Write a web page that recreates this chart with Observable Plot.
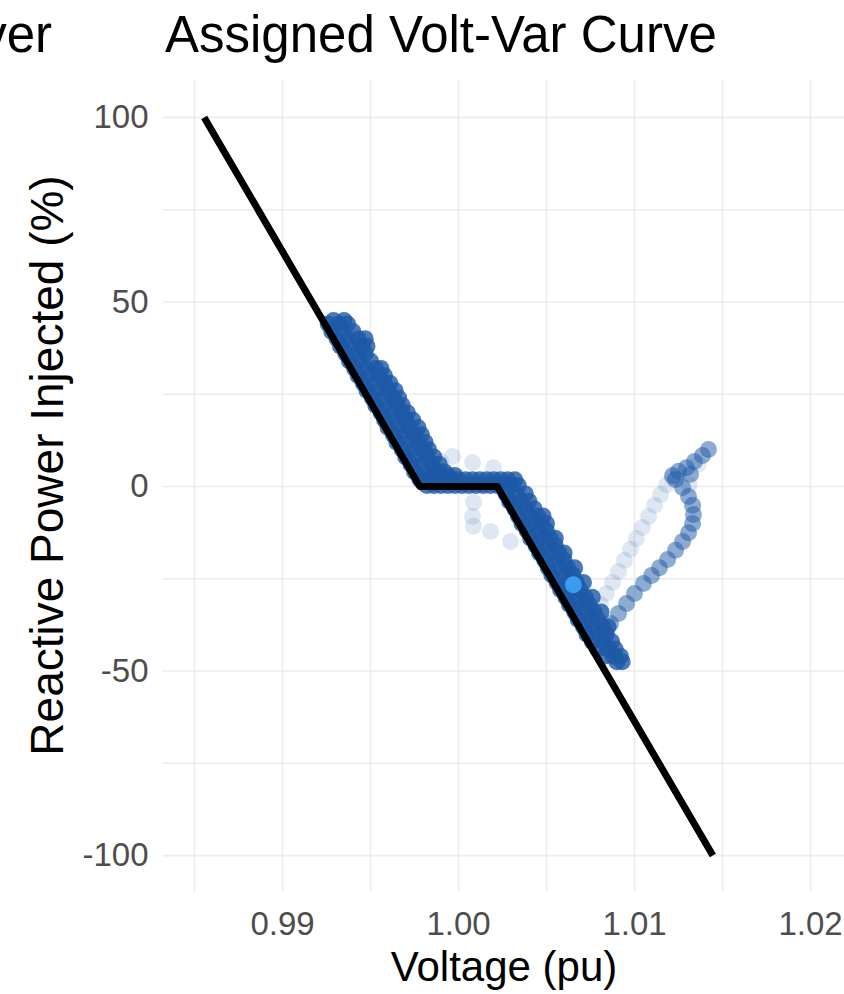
<!DOCTYPE html>
<html><head><meta charset="utf-8">
<script src="https://cdn.jsdelivr.net/npm/d3@7"></script>
<script src="https://cdn.jsdelivr.net/npm/@observablehq/plot@0.6"></script>
<style>
body{margin:0;background:#fff;width:844px;height:994px;overflow:hidden;font-family:"Liberation Sans",Arial,sans-serif;}
#head{position:relative;height:70px;}
#head span{position:absolute;top:9px;font-size:51px;line-height:1;color:#000;white-space:nowrap;}
</style></head><body>
<div id="head"><span style="right:792px">ver</span><span style="left:165px">Assigned Volt-Var Curve</span></div>
<div id="chart"></div>
<script>
// Assigned volt-var curve (voltage pu, reactive power %)
const curveV = [0.98555, 0.9978, 1.0022, 1.01445];
const curveQ = [100, 0, 0, -100];

// Dense measured band, upper slope: [Q, voltages...]
const upperSlope = [
  [45, 0.9929, 0.9935],
  [44, 0.9926, 0.9932, 0.9937],
  [42, 0.9928, 0.9934, 0.9940],
  [40, 0.9931, 0.9937, 0.9943, 0.9947],
  [38, 0.9933, 0.9939, 0.9945, 0.9948],
  [36, 0.9936, 0.9942, 0.9947],
  [34, 0.9938, 0.9944, 0.9950],
  [32, 0.9941, 0.9947, 0.9953, 0.9956],
  [30, 0.9943, 0.9949, 0.9955, 0.9958],
  [28, 0.9946, 0.9952, 0.9958, 0.9961],
  [26, 0.9948, 0.9954, 0.9960, 0.9964],
  [24, 0.9951, 0.9957, 0.9963, 0.9966],
  [22, 0.9953, 0.9959, 0.9965, 0.9968],
  [20, 0.9956, 0.9962, 0.9968, 0.9971],
  [18, 0.9958, 0.9964, 0.9970, 0.9974],
  [16, 0.9960, 0.9966, 0.9972, 0.9977],
  [14, 0.9963, 0.9969, 0.9975, 0.9979],
  [12, 0.9965, 0.9971, 0.9977, 0.9981],
  [10, 0.9968, 0.9974, 0.9980, 0.9983],
  [8, 0.9970, 0.9976, 0.9982, 0.9986],
  [6, 0.9973, 0.9979, 0.9985, 0.9989],
  [4, 0.9975, 0.9981, 0.9987, 0.9992],
  [2, 0.9978, 0.9984, 0.9990, 0.9995]
];
// Dense band, dead-band plateau
const plateau = [
  [3, 0.9986, 0.9990, 0.9994, 0.9998],
  [1.8, 0.9980, 0.9984, 0.9988, 0.9992, 0.9996, 1.0000, 1.0004, 1.0008, 1.0012, 1.0016, 1.0020, 1.0024, 1.0028, 1.0032],
  [0.3, 0.9982, 0.9986, 0.9990, 0.9994, 0.9998, 1.0002, 1.0006, 1.0010, 1.0014, 1.0018, 1.0022, 1.0026, 1.0030, 1.0034]
];
// Dense band, lower slope
const lowerSlope = [
  [-2, 1.0027, 1.0033, 1.0038],
  [-4, 1.0029, 1.0035, 1.0040],
  [-6, 1.0032, 1.0038, 1.0043],
  [-8, 1.0034, 1.0040, 1.0045, 1.0048],
  [-10, 1.0036, 1.0042, 1.0047, 1.0050],
  [-12, 1.0039, 1.0045, 1.0050],
  [-14, 1.0041, 1.0047, 1.0052, 1.0055],
  [-16, 1.0044, 1.0050, 1.0055],
  [-18, 1.0046, 1.0052, 1.0057, 1.0060],
  [-20, 1.0049, 1.0055, 1.0060],
  [-22, 1.0051, 1.0057, 1.0062, 1.0066],
  [-24, 1.0053, 1.0059, 1.0065],
  [-26, 1.0056, 1.0062, 1.0067, 1.0071],
  [-28, 1.0058, 1.0064, 1.0069],
  [-30, 1.0061, 1.0067, 1.0072, 1.0076],
  [-32, 1.0063, 1.0069, 1.0074],
  [-34, 1.0066, 1.0072, 1.0077, 1.0081],
  [-36, 1.0068, 1.0074, 1.0079],
  [-38, 1.0071, 1.0077, 1.0082, 1.0085],
  [-40, 1.0073, 1.0079, 1.0084],
  [-42, 1.0076, 1.0082, 1.0087],
  [-44, 1.0079, 1.0085, 1.0089],
  [-46, 1.0083, 1.0088, 1.0092],
  [-47.5, 1.0090, 1.0093]
];
// Return path (darker trail)
const returnV = [1.00864, 1.00909, 1.00955, 1.0100, 1.01051, 1.01097, 1.01142, 1.01188, 1.01233, 1.01273, 1.01307, 1.0133, 1.01335, 1.0133, 1.01307, 1.01273, 1.01233, 1.0125, 1.01295, 1.0134, 1.01386, 1.0142, 1.01318, 1.01216];
const returnQ = [-37.1, -34.4, -31.7, -29.0, -26.3, -24.1, -22.0, -19.8, -17.3, -14.9, -12.5, -10.0, -7.6, -5.1, -2.7, -0.3, 1.9, 4.1, 5.1, 6.8, 8.4, 10.0, 3.3, 3.0];
// Faint trails
const faintV = [1.00807, 1.00841, 1.00875, 1.00909, 1.00943, 1.00977, 1.01011, 1.01045, 1.0108, 1.01114, 1.01148, 1.01182, 1.01216, 1.0131, 1.0136,
                0.99898, 0.99966, 1.0008, 1.00199, 1.00085, 1.0008, 1.00085, 1.00182, 1.00295];
const faintQ = [-32, -29, -26, -23, -20, -17, -14.1, -11.1, -8.1, -5.1, -2.2, 0.5, 2.4, 0.5, 6.0,
                6.8, 8.1, 6.5, 5.1, -4.3, -8.1, -10.8, -12.2, -14.9];
// Highlighted current operating point
const currentV = [1.00653];
const currentQ = [-26.6];

const xTicks = [0.99, 1.00, 1.01, 1.02];
const xGrid = [0.985, 0.99, 0.995, 1.00, 1.005, 1.01, 1.015, 1.02];
const yTicks = [-100, -50, 0, 50, 100];
const yGrid = [-100, -75, -50, -25, 0, 25, 50, 75, 100];

const rows = (tbl) => tbl.flatMap(([q, ...vs]) => vs.map(v => ({v, q})));
const band = [...rows(upperSlope), ...rows(plateau), ...rows(lowerSlope)];
const pairs = (V, Q) => V.map((v, i) => ({v, q: Q[i]}));
const curve = pairs(curveV, curveQ);
const ret = pairs(returnV, returnQ);
const faint = pairs(faintV, faintQ);
const current = pairs(currentV, currentQ);

const blue = "#1d59a6";
const chart = Plot.plot({
  width: 844,
  height: 924,
  marginTop: 10,
  marginBottom: 102,
  marginLeft: 163,
  marginRight: 0,
  style: {fontFamily: "'Liberation Sans', Arial, sans-serif", background: "#fff"},
  x: {domain: [0.98324, 1.02193]},
  y: {domain: [-110, 110]},
  marks: [
    Plot.gridX(xGrid, {stroke: "#ebebeb", strokeOpacity: 1, strokeWidth: 1.6}),
    Plot.gridY(yGrid, {stroke: "#ebebeb", strokeOpacity: 1, strokeWidth: 1.6}),
    Plot.axisX(xTicks, {tickSize: 0, tickPadding: 19, tickFormat: d3.format(".2f"), fontSize: 33, color: "#4d4d4d", label: null}),
    Plot.axisY(yTicks, {tickSize: 0, tickPadding: 15, tickFormat: d => String(d), fontSize: 33, color: "#4d4d4d", label: null}),
    Plot.text(["Voltage (pu)"], {frameAnchor: "bottom", dy: 88, fontSize: 42, fill: "#000"}),
    Plot.text(["Reactive Power Injected (%)"], {frameAnchor: "left", textAnchor: "middle", rotate: -90, dx: -115, dy: -21, fontSize: 46, fill: "#000"}),
    Plot.dot(faint, {x: "v", y: "q", r: 8.5, fill: blue, fillOpacity: 0.14, stroke: "none"}),
    Plot.dot(ret, {x: "v", y: "q", r: 8.5, fill: blue, fillOpacity: 0.5, stroke: "none"}),
    Plot.dot(band, {x: "v", y: "q", r: 8.5, fill: blue, fillOpacity: 0.8, stroke: "none"}),
    Plot.dot(current, {x: "v", y: "q", r: 8.5, fill: "#3a9bf0", stroke: "none"}),
    Plot.line(curve, {x: "v", y: "q", stroke: "#000", strokeWidth: 7, strokeLinecap: "butt", strokeLinejoin: "round"})
  ]
});
document.getElementById("chart").appendChild(chart);
</script>
</body></html>
